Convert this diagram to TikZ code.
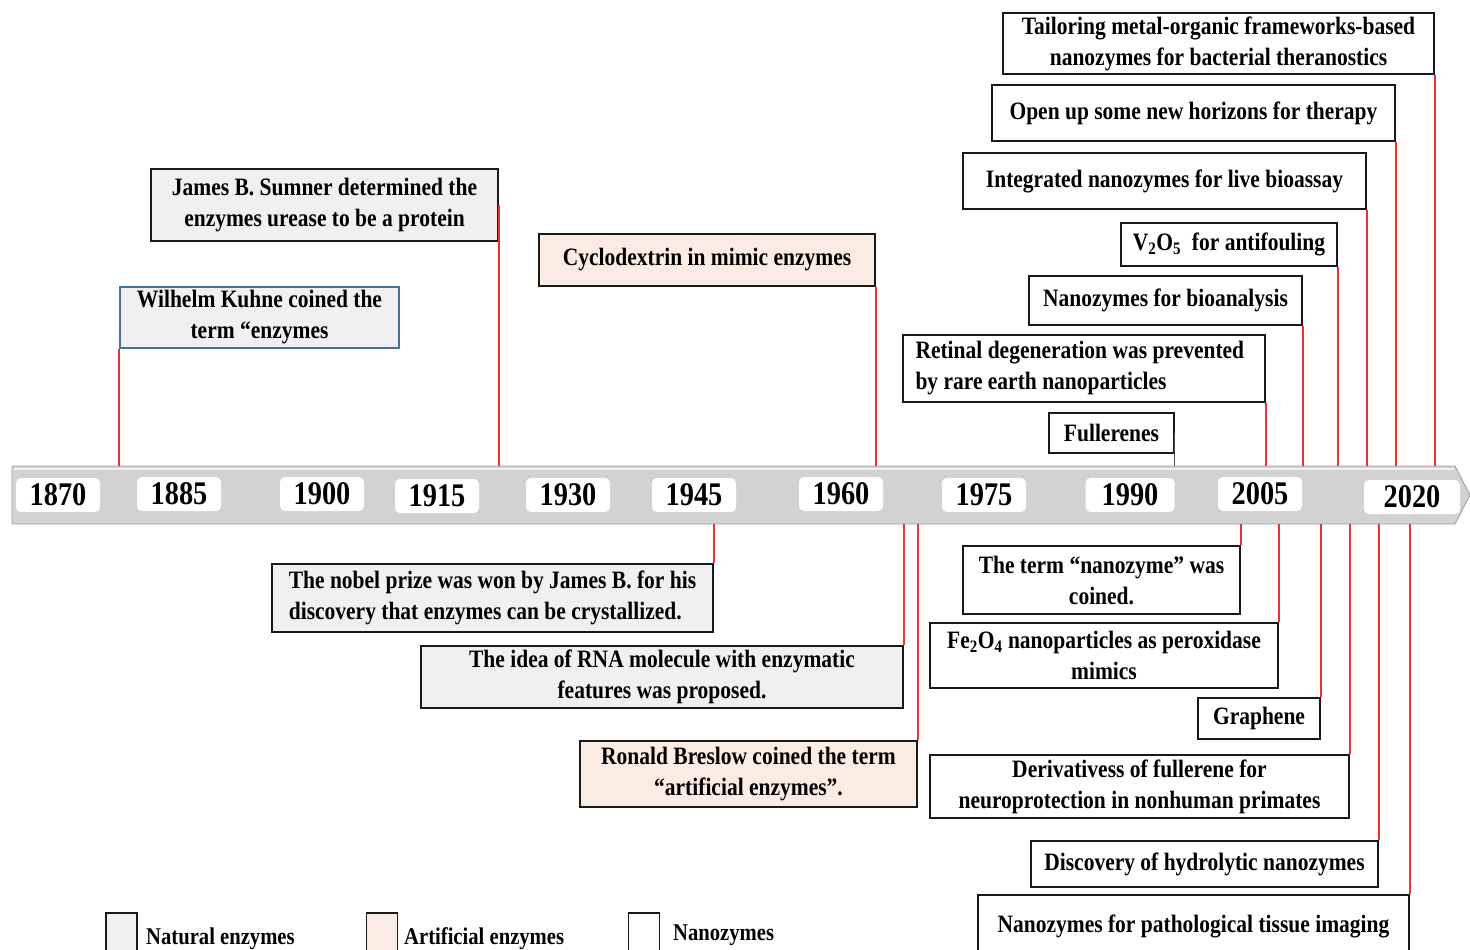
\documentclass[tikz,border=0pt]{standalone}
\usepackage{fontspec}
\setmainfont{Liberation Serif}[FakeStretch=0.86]
\definecolor{natgray}{RGB}{240,240,240}
\definecolor{artpeach}{RGB}{251,236,227}
\definecolor{bargray}{RGB}{210,210,210}
\definecolor{kuhneblue}{RGB}{65,113,156}
\definecolor{linkred}{RGB}{232,50,50}
\tikzset{
    evt/.style={draw=black!90, line width=1.2pt, inner sep=0pt, align=center,
        font=\bfseries\fontsize{25}{31}\selectfont},
    natural/.style={evt, fill=natgray},
    artificial/.style={evt, fill=artpeach},
    nano/.style={evt, fill=white},
    yearbox/.style={fill=white, rounded corners=5pt, inner sep=0pt,
        minimum width=84, minimum height=34, font=\bfseries\fontsize{33}{33}\selectfont},
    link/.style={draw=linkred, line width=2pt},
    keybox/.style={draw=black!90, line width=1.2pt, minimum width=31, minimum height=40, inner sep=0pt},
    keytext/.style={anchor=west, inner sep=0pt, font=\bfseries\fontsize{24}{24}\selectfont}
}

\begin{document}
\begin{tikzpicture}[x=1pt, y=-1pt]
    \useasboundingbox (0,0) rectangle (1470,950);
    \draw [fill=bargray, draw=bargray!75!black, line width=0.8pt]
        (12,466) -- (1455,466) -- (1470,495) -- (1455,524) -- (12,524) -- cycle;
    \draw [white!70!bargray, line width=2pt] (14,469) -- (1454,469);
    \coordinate (bartop) at (0,466);
    \coordinate (barbot) at (0,524);

    \node (y1870) [yearbox] at (58,495) {1870};
    \node (y1885) [yearbox] at (179,494) {1885};
    \node (y1900) [yearbox] at (322,494) {1900};
    \node (y1915) [yearbox] at (437,496) {1915};
    \node (y1930) [yearbox] at (568,495) {1930};
    \node (y1945) [yearbox] at (694,495) {1945};
    \node (y1960) [yearbox] at (841,494) {1960};
    \node (y1975) [yearbox] at (984,495) {1975};
    \node (y1990) [yearbox, minimum width=89] at (1130,495) {1990};
    \node (y2005) [yearbox] at (1260,494) {2005};
    \node (y2020) [yearbox, minimum width=96] at (1412,497) {2020};

    \node (sumner) [natural, minimum width=347, minimum height=72] at (324.5,205)
        {James B. Sumner determined the\\enzymes urease to be a protein};
    \node (kuhne) [natural, draw=kuhneblue, minimum width=279, minimum height=61] at (259.5,317.5)
        {Wilhelm Kuhne coined the\\term “enzymes};
    \node (cyclo) [artificial, minimum width=336, minimum height=52] at (707,260)
        {Cyclodextrin in mimic enzymes};
    \node (mof) [nano, minimum width=431, minimum height=61] at (1218.5,43.5)
        {Tailoring metal-organic frameworks-based\\nanozymes for bacterial theranostics};
    \node (horizon) [nano, minimum width=403, minimum height=56] at (1193.5,113)
        {Open up some new horizons for therapy};
    \node (bioassay) [nano, minimum width=403, minimum height=56] at (1164.5,181)
        {Integrated nanozymes for live bioassay};
    \node (vanad) [nano, minimum width=216, minimum height=43] at (1229,244.5)
        {V\textsubscript{2}O\textsubscript{5} \ for antifouling};
    \node (bioanal) [nano, minimum width=273, minimum height=49] at (1165.5,300.5)
        {Nanozymes for bioanalysis};
    \node (retinal) [nano, align=left, minimum width=362, minimum height=67] at (1084,368.5)
        {Retinal degeneration was prevented\\by rare earth nanoparticles\phantom{aaaaaaaa}};
    \node (fuller) [nano, minimum width=125, minimum height=40] at (1111.5,433)
        {Fullerenes};

    \node (nobel) [natural, align=left, minimum width=441, minimum height=68] at (492.5,598)
        {The nobel prize was won by James B. for his\\discovery that enzymes can be crystallized.};
    \node (rna) [natural, minimum width=482, minimum height=62] at (662,677)
        {The idea of RNA molecule with enzymatic\\features was proposed.};
    \node (breslow) [artificial, minimum width=337, minimum height=66] at (748.5,774)
        {Ronald Breslow coined the term\\“artificial enzymes”.};
    \node (term) [nano, minimum width=277, minimum height=68] at (1101.5,580)
        {The term “nanozyme” was\\coined.};
    \node (ferro) [nano, minimum width=348, minimum height=65] at (1104,655.5)
        {Fe\textsubscript{2}O\textsubscript{4} nanoparticles as peroxidase\\mimics};
    \node (graph) [nano, minimum width=122, minimum height=41] at (1259,718.5)
        {Graphene};
    \node (deriv) [nano, minimum width=419, minimum height=63] at (1139.5,786.5)
        {Derivativess of fullerene for\\neuroprotection in nonhuman primates};
    \node (hydro) [nano, minimum width=347, minimum height=46] at (1204.5,864)
        {Discovery of hydrolytic nanozymes};
    \node (patho) [nano, minimum width=431, minimum height=62] at (1193.5,926)
        {Nanozymes for pathological tissue imaging};

    \draw [link] (kuhne.south west) -- (kuhne.south west |- bartop);
    \draw [link] (sumner.east) -- (sumner.east |- bartop);
    \draw [link] (cyclo.south east) -- (cyclo.south east |- bartop);
    \draw [link] (mof.south east) -- (mof.south east |- bartop);
    \draw [link] (horizon.south east) -- (horizon.south east |- bartop);
    \draw [link] (bioassay.south east) -- (bioassay.south east |- bartop);
    \draw [link] (vanad.south east) -- (vanad.south east |- bartop);
    \draw [link] (bioanal.south east) -- (bioanal.south east |- bartop);
    \draw [link] (retinal.south east) -- (retinal.south east |- bartop);
    \draw [draw=black!70, line width=1.6pt] (fuller.east) -- (fuller.east |- bartop);

    \draw [link] (nobel.north east |- barbot) -- (nobel.north east);
    \draw [link] (rna.north east |- barbot) -- (rna.north east);
    \draw [link] (breslow.north east |- barbot) -- (breslow.north east);
    \draw [link] (term.north east |- barbot) -- (term.north east);
    \draw [link] (ferro.north east |- barbot) -- (ferro.north east);
    \draw [link] (graph.north east |- barbot) -- (graph.north east);
    \draw [link] (deriv.north east |- barbot) -- (deriv.north east);
    \draw [link] (hydro.north east |- barbot) -- (hydro.north east);
    \draw [link] (patho.north east |- barbot) -- (patho.north east);

    \node (keynat) [keybox, fill=natgray] at (121.5,933) {};
    \node (keyart) [keybox, fill=artpeach] at (382,933) {};
    \node (keynano) [keybox, fill=white] at (644,933) {};
    \node (labnat) [keytext] at (146,939) {Natural enzymes};
    \node (labart) [keytext] at (404,939) {Artificial enzymes};
    \node (labnano) [keytext] at (673,935) {Nanozymes};
\end{tikzpicture}
\end{document}
